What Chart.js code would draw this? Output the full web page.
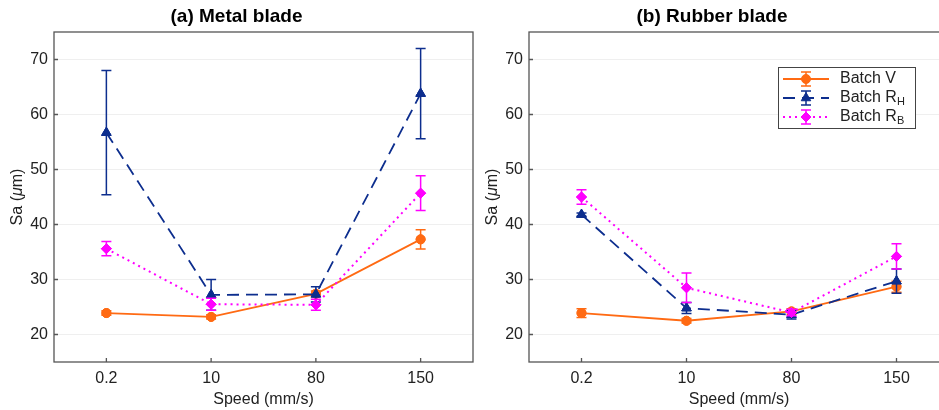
<!DOCTYPE html>
<html>
<head>
<meta charset="utf-8">
<script src="https://cdn.jsdelivr.net/npm/chart.js@4/dist/chart.umd.min.js"></script>
<style>
  html, body { margin: 0; padding: 0; background: #fff; overflow: hidden; }
  #wrap { position: relative; width: 939px; height: 410px; overflow: hidden; }
  canvas { position: absolute; top: 0; }
  #metal { left: 0; }
  #rubber { left: 475px; }
</style>
</head>
<body>
<div id="wrap">
  <canvas id="metal" width="474" height="410"></canvas>
  <canvas id="rubber" width="475" height="410"></canvas>
</div>
<script>
// x categories and y ticks
const speeds = ['0.2', '10', '80', '150'];
const yTicks = [20, 30, 40, 50, 60, 70];
const batchNames = ['Batch V', 'Batch R', 'Batch R'];
const batchSubs = ['', 'H', 'B'];

// (a) Metal blade: means and +/- errors
const metalV = [23.9, 23.2, 27.4, 37.3];
const metalVErr = [0.4, 0.4, 0.5, 1.75];
const metalRH = [56.7, 27.2, 27.3, 63.8];
const metalRHErr = [11.3, 2.8, 1.4, 8.2];
const metalRB = [35.6, 25.5, 25.4, 45.7];
const metalRBErr = [1.3, 1.1, 1.0, 3.15];

// (b) Rubber blade
const rubberV = [23.9, 22.5, 24.2, 28.7];
const rubberVErr = [0.8, 0.4, 0.5, 1.0];
const rubberRH = [41.8, 24.8, 23.6, 29.7];
const rubberRHErr = [0.3, 1.0, 0.8, 2.2];
const rubberRB = [45.0, 28.5, 24.0, 34.2];
const rubberRBErr = [1.3, 2.7, 0.6, 2.3];

const FONT = '"Liberation Sans", Arial, Helvetica, sans-serif';
Chart.defaults.font.family = FONT;
Chart.defaults.color = '#222';

const colors = ['#ff6a13', '#0d2e8e', '#ff00ff'];
const looks = [
  { pointStyle: 'circle', radius: 4.5, dash: [], width: 1.8 },
  { pointStyle: 'triangle', radius: 5.5, dash: [12, 7], width: 1.8 },
  { pointStyle: 'rectRot', radius: 5, dash: [2, 4], width: 2 }
];

const makeSets = (vals, errs) => vals.map((v, i) => ({
  label: batchNames[i] + batchSubs[i],
  data: v,
  err: errs[i],
  borderColor: colors[i],
  backgroundColor: colors[i],
  borderWidth: looks[i].width,
  borderDash: looks[i].dash,
  pointStyle: looks[i].pointStyle,
  pointRadius: looks[i].radius,
  pointBorderWidth: 1,
  order: 3 - i,
  tension: 0
}));

const drawMarker = (ctx, style, r, x, y) => {
  if (Chart.helpers && Chart.helpers.drawPoint) {
    Chart.helpers.drawPoint(ctx, { pointStyle: style, radius: r, borderWidth: 1, rotation: 0 }, x, y);
  } else {
    ctx.beginPath(); ctx.arc(x, y, r, 0, Math.PI * 2); ctx.fill(); ctx.stroke();
  }
};

// error bars, drawn per dataset, then markers redrawn on top
const errorBars = {
  id: 'errorBars',
  afterDatasetDraw(chart, args) {
    const ds = chart.data.datasets[args.index];
    const y = chart.scales.y;
    const ctx = chart.ctx;
    ctx.save();
    ctx.strokeStyle = ds.borderColor;
    ctx.lineWidth = 1.5;
    ctx.setLineDash([]);
    args.meta.data.forEach((pt, j) => {
      const top = y.getPixelForValue(ds.data[j] + ds.err[j]);
      const bot = y.getPixelForValue(ds.data[j] - ds.err[j]);
      ctx.beginPath();
      ctx.moveTo(pt.x, top); ctx.lineTo(pt.x, bot);
      ctx.moveTo(pt.x - 5, top); ctx.lineTo(pt.x + 5, top);
      ctx.moveTo(pt.x - 5, bot); ctx.lineTo(pt.x + 5, bot);
      ctx.stroke();
    });
    args.meta.data.forEach(pt => pt.draw(ctx, chart.chartArea));
    ctx.restore();
  }
};

// box round the plot, inward ticks, y title with italic mu
const frame = {
  id: 'frame',
  beforeDatasetsDraw(chart) {
    const { ctx, chartArea: a, scales: { x, y } } = chart;
    ctx.save();
    ctx.strokeStyle = '#555';
    ctx.lineWidth = 1.3;
    ctx.strokeRect(a.left, a.top, a.right - a.left, a.bottom - a.top);
    ctx.beginPath();
    y.ticks.forEach(t => {
      const py = y.getPixelForValue(t.value);
      ctx.moveTo(a.left, py); ctx.lineTo(a.left + 4, py);
    });
    x.ticks.forEach((t, i) => {
      const px = x.getPixelForTick(i);
      ctx.moveTo(px, a.bottom); ctx.lineTo(px, a.bottom - 4);
    });
    ctx.stroke();

    // "Sa (μm)"
    const parts = [['Sa (', ''], ['\u03bc', 'italic '], ['m)', '']];
    ctx.translate(a.left - 36, (a.top + a.bottom) / 2);
    ctx.rotate(-Math.PI / 2);
    ctx.fillStyle = '#222';
    ctx.textBaseline = 'middle';
    let total = 0;
    parts.forEach(p => { ctx.font = p[1] + '16px ' + FONT; total += ctx.measureText(p[0]).width; });
    let cx = -total / 2;
    parts.forEach(p => {
      ctx.font = p[1] + '16px ' + FONT;
      ctx.fillText(p[0], cx, 0);
      cx += ctx.measureText(p[0]).width;
    });
    ctx.restore();
  }
};

// legend with subscripts, right panel only
const batchLegend = {
  id: 'batchLegend',
  afterDraw(chart) {
    const { ctx, chartArea: a } = chart;
    const bx = a.left + 249, by = a.top + 35, bw = 137, bh = 61;
    ctx.save();
    ctx.fillStyle = '#fff';
    ctx.fillRect(bx, by, bw, bh);
    ctx.strokeStyle = '#444';
    ctx.lineWidth = 1;
    ctx.strokeRect(bx + 0.5, by + 0.5, bw, bh);
    chart.data.datasets.forEach((ds, i) => {
      const cy = by + 12 + i * 19;
      const mx = bx + 28;
      ctx.strokeStyle = ds.borderColor;
      ctx.fillStyle = ds.backgroundColor;
      ctx.lineWidth = ds.borderWidth;
      ctx.setLineDash(ds.borderDash);
      ctx.beginPath(); ctx.moveTo(bx + 5, cy); ctx.lineTo(bx + 51, cy); ctx.stroke();
      ctx.setLineDash([]);
      ctx.lineWidth = 1.5;
      ctx.beginPath();
      ctx.moveTo(mx, cy - 7); ctx.lineTo(mx, cy + 7);
      ctx.moveTo(mx - 5, cy - 7); ctx.lineTo(mx + 5, cy - 7);
      ctx.moveTo(mx - 5, cy + 7); ctx.lineTo(mx + 5, cy + 7);
      ctx.stroke();
      ctx.lineWidth = 1;
      drawMarker(ctx, ds.pointStyle, ds.pointRadius, mx, cy);
      ctx.fillStyle = '#222';
      ctx.textBaseline = 'middle';
      ctx.font = '16px ' + FONT;
      ctx.fillText(batchNames[i], bx + 62, cy);
      if (batchSubs[i]) {
        const w = ctx.measureText(batchNames[i]).width;
        ctx.font = '11px ' + FONT;
        ctx.fillText(batchSubs[i], bx + 62 + w, cy + 4);
      }
    });
    ctx.restore();
  }
};

const noPad = s => { s.paddingLeft = 0; s.paddingRight = 0; s.paddingTop = 0; s.paddingBottom = 0; };

const buildChart = (id, title, sets, extra) => new Chart(document.getElementById(id), {
  type: 'line',
  data: { labels: speeds, datasets: sets },
  options: {
    responsive: false,
    animation: false,
    layout: { padding: { right: 1 }, autoPadding: false },
    plugins: {
      legend: { display: false },
      tooltip: { enabled: false },
      title: {
        display: true,
        text: title,
        color: '#000',
        font: { size: 19, weight: 'bold' },
        padding: { top: 5.6, bottom: 3.6 }
      }
    },
    scales: {
      x: {
        type: 'category',
        offset: true,
        grid: { display: false, drawTicks: false },
        border: { display: false },
        ticks: { padding: 7, color: '#222', font: { size: 16 } },
        title: { display: true, text: 'Speed (mm/s)', color: '#222', font: { size: 16 }, padding: { top: 0, bottom: 1 } },
        afterFit: s => { s.height = 48; noPad(s); }
      },
      y: {
        min: 15,
        max: 75,
        grid: { color: '#efefef', drawTicks: false },
        border: { display: false },
        ticks: { padding: 6, color: '#222', font: { size: 16 } },
        afterBuildTicks: s => { s.ticks = yTicks.map(v => ({ value: v })); },
        afterFit: s => { s.width = 54; noPad(s); }
      }
    }
  },
  plugins: [frame, errorBars].concat(extra)
});

buildChart('metal', '(a) Metal blade', makeSets([metalV, metalRH, metalRB], [metalVErr, metalRHErr, metalRBErr]), []);
buildChart('rubber', '(b) Rubber blade', makeSets([rubberV, rubberRH, rubberRB], [rubberVErr, rubberRHErr, rubberRBErr]), [batchLegend]);
</script>
</body>
</html>
